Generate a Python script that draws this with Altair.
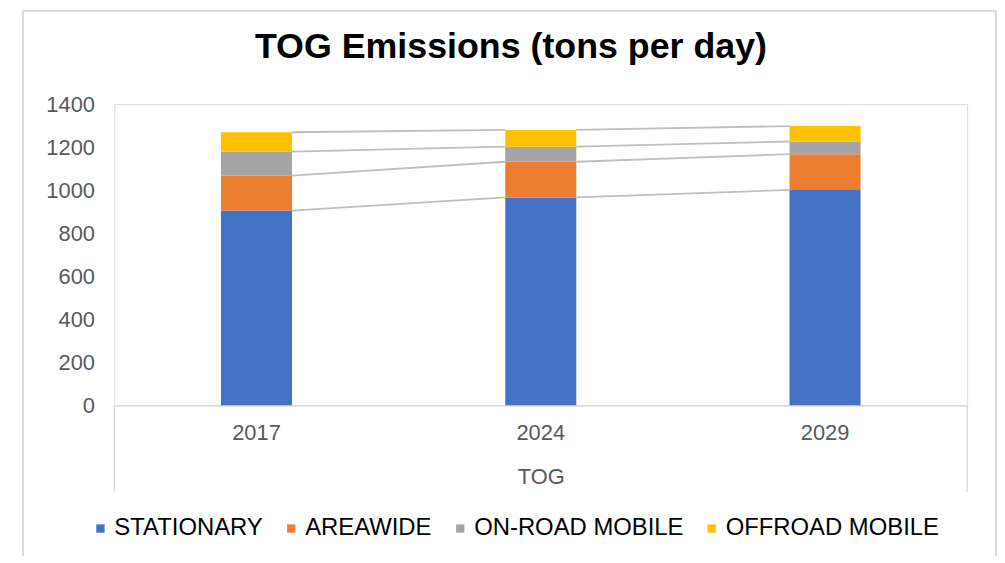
import altair as alt
import pandas as pd

years = ["2017", "2024", "2029"]
series = ["STATIONARY", "AREAWIDE", "ON-ROAD MOBILE", "OFFROAD MOBILE"]
stationary = [905, 966, 1001]
areawide = [162, 166, 166]
onroad = [112, 70, 59]
offroad = [90, 78, 72]
colors = ["#4472C4", "#ED7D31", "#A5A5A5", "#FFC000"]

values = [stationary, areawide, onroad, offroad]

rows = []
for si, (name, vals) in enumerate(zip(series, values)):
    for yi, yr in enumerate(years):
        rows.append({"year": yr, "series": name, "value": vals[yi], "order": si})
bars_df = pd.DataFrame(rows)

# series lines connecting cumulative tops between adjacent bars
line_rows = []
for yi in range(len(years) - 1):
    cum_a = 0
    cum_b = 0
    for si, vals in enumerate(values):
        cum_a += vals[yi]
        cum_b += vals[yi + 1]
        line_rows.append({"from": years[yi], "to": years[yi + 1], "ya": cum_a, "yb": cum_b})
lines_df = pd.DataFrame(line_rows)

FONT = "Liberation Sans"
W, H = 858, 303

xscale = alt.Scale(domain=years, paddingInner=0.75, paddingOuter=0.375)
yscale = alt.Scale(domain=[0, 1400])

bars = alt.Chart(bars_df).mark_bar().encode(
    x=alt.X("year:N", scale=xscale, sort=years,
            axis=alt.Axis(title="TOG", labelAngle=0, ticks=False, domainColor="#d9d9d9",
                          domainWidth=1.5, labelFontSize=22, labelColor="#595959",
                          labelPadding=17, titleFontSize=22, titleFontWeight="normal",
                          titleColor="#595959", titlePadding=24, labelFont=FONT, titleFont=FONT)),
    y=alt.Y("value:Q", stack="zero", scale=yscale,
            axis=alt.Axis(title=None, values=list(range(0, 1401, 200)), format="d",
                          domain=False, ticks=False,
                          grid=False, labelFontSize=22, labelColor="#595959", labelPadding=20,
                          labelFont=FONT)),
    color=alt.Color("series:N", scale=alt.Scale(domain=series, range=colors), sort=series,
                    legend=alt.Legend(title=None, orient="none", direction="horizontal",
                                      legendX=-26, legendY=415, symbolType="square",
                                      symbolSize=70, symbolStrokeWidth=0, labelFontSize=24,
                                      labelColor="#000000", labelFont=FONT, labelLimit=0,
                                      columnPadding=16, labelOffset=2)),
    order=alt.Order("order:Q", sort="ascending"),
)

lines = alt.Chart(lines_df).mark_rule(color="#bfbfbf", strokeWidth=1.8).encode(
    x=alt.X("from:N", scale=xscale, bandPosition=1),
    x2=alt.X2("to:N", bandPosition=0),
    y=alt.Y("ya:Q", scale=yscale),
    y2=alt.Y2("yb:Q"),
)

dummy = pd.DataFrame({"a": [0]})
box_left = alt.Chart(dummy).mark_rule(color="#d9d9d9", strokeWidth=1.5).encode(
    x=alt.value(0), y=alt.value(H), y2=alt.value(H + 87))
box_right = alt.Chart(dummy).mark_rule(color="#d9d9d9", strokeWidth=1.5).encode(
    x=alt.value(W), y=alt.value(H), y2=alt.value(H + 87))
frame_left = alt.Chart(dummy).mark_rule(color="#d9d9d9", strokeWidth=2).encode(
    x=alt.value(-92), y=alt.value(-94), y2=alt.value(470))
frame_top = alt.Chart(dummy).mark_rule(color="#d9d9d9", strokeWidth=2).encode(
    x=alt.value(-92), x2=alt.value(887), y=alt.value(-94))
frame_right = alt.Chart(dummy).mark_rule(color="#d9d9d9", strokeWidth=2).encode(
    x=alt.value(887), y=alt.value(-94), y2=alt.value(470))

chart = alt.layer(bars, lines, box_left, box_right, frame_left, frame_top, frame_right).properties(
    width=W, height=H,
    title=alt.TitleParams("TOG Emissions (tons per day)", fontSize=36, fontWeight="bold",
                          font=FONT, color="#000000", anchor="middle", dx=-30, offset=-57,
                          frame="group"),
    autosize=alt.AutoSizeParams(type="none"),
    padding={"left": 107, "top": 95, "right": 30, "bottom": 150},
).configure_view(stroke=None).configure(background="white")

chart.save("out.html", embed_options={"renderer": "svg", "actions": False})
